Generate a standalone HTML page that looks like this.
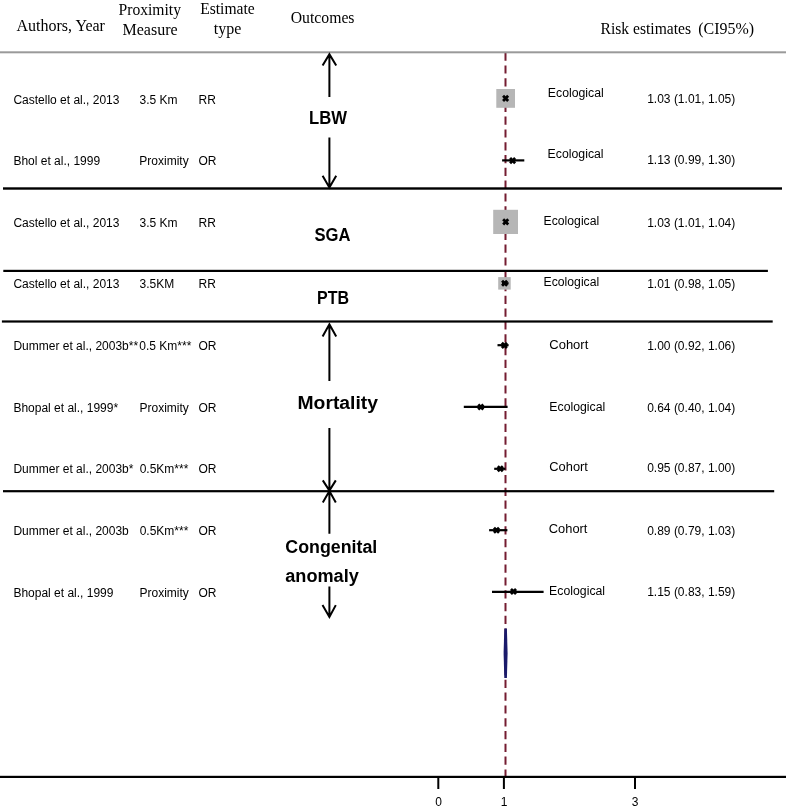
<!DOCTYPE html>
<html><head><meta charset="utf-8"><style>
html,body{margin:0;padding:0;background:#fff;width:787px;height:810px;overflow:hidden}
svg{display:block;filter:blur(0.3px)}
.sf{font-family:"Liberation Serif",serif;font-size:16px;fill:#000}
.ss{font-family:"Liberation Sans",sans-serif;font-size:12px;fill:#000}
.bd{font-family:"Liberation Sans",sans-serif;font-size:18px;font-weight:bold;fill:#000}
</style></head><body>
<svg width="787" height="810" viewBox="0 0 787 810">
<!-- header -->
<text class="sf" x="16.5" y="31">Authors, Year</text>
<text class="sf" x="118.5" y="14.5" textLength="62.5" lengthAdjust="spacingAndGlyphs">Proximity</text>
<text class="sf" x="122.5" y="35.4">Measure</text>
<text class="sf" x="200.2" y="13.5" textLength="54.5" lengthAdjust="spacingAndGlyphs">Estimate</text>
<text class="sf" x="213.8" y="33.5">type</text>
<text class="sf" x="290.7" y="22.9" textLength="63.8" lengthAdjust="spacingAndGlyphs">Outcomes</text>
<text class="sf" x="600.5" y="33.7" textLength="90.5" lengthAdjust="spacingAndGlyphs">Risk estimates</text>
<text class="sf" x="698.3" y="33.7" textLength="55.8" lengthAdjust="spacingAndGlyphs">(CI95%)</text>

<!-- dashed reference line -->
<line x1="505.5" y1="52.6" x2="505.5" y2="776" stroke="#741c31" stroke-width="2" stroke-dasharray="8.2 4.6"/>

<!-- horizontal lines -->
<rect x="0" y="51.3" width="786" height="2" fill="#9a9a9a"/>
<rect x="3" y="187.3" width="779" height="2.4" fill="#000"/>
<rect x="3.3" y="269.8" width="764.6" height="2.2" fill="#000"/>
<rect x="1.9" y="320.4" width="770.8" height="2.2" fill="#000"/>
<rect x="3" y="490.1" width="771.2" height="2.2" fill="#000"/>
<rect x="0" y="775.8" width="786" height="2.2" fill="#000"/>

<!-- ticks -->
<rect x="437.3" y="777" width="2" height="12" fill="#000"/>
<rect x="502.9" y="777" width="2" height="12" fill="#000"/>
<rect x="634" y="777" width="2" height="12" fill="#000"/>
<text class="ss" x="438.5" y="805.7" text-anchor="middle">0</text>
<text class="ss" x="504" y="805.7" text-anchor="middle">1</text>
<text class="ss" x="635" y="805.7" text-anchor="middle">3</text>

<!-- arrows -->
<g stroke="#000" stroke-width="2" fill="none" stroke-linecap="butt">
<path d="M329.4 54.5V97M322.6 65.6L329.4 54.2L336.2 65.6"/>
<path d="M329.4 137.6V187.6M322.6 175.8L329.4 187.6L336.2 175.8"/>
<path d="M329.4 324.6V381.1M322.6 336.5L329.4 324.3L336.2 336.5"/>
<path d="M329.4 428.1V490.2M322.8 480.4L329.4 490.6L335.8 480.4"/>
<path d="M329.4 491V533.8M322.8 502.6L329.4 491L335.8 502.6"/>
<path d="M329.4 586.4V616.6M322.5 605.1L329.4 617L335.8 605.1"/>
</g>

<!-- bold outcome labels -->
<text class="bd" x="309" y="123.5" textLength="38" lengthAdjust="spacingAndGlyphs">LBW</text>
<text class="bd" x="314.5" y="241.1" textLength="36" lengthAdjust="spacingAndGlyphs">SGA</text>
<text class="bd" x="317" y="304.4" textLength="32" lengthAdjust="spacingAndGlyphs">PTB</text>
<text class="bd" x="297.5" y="408.9" textLength="80.5" lengthAdjust="spacingAndGlyphs">Mortality</text>
<text class="bd" x="285.3" y="552.7" textLength="92" lengthAdjust="spacingAndGlyphs">Congenital</text>
<text class="bd" x="285.3" y="581.5" textLength="73.5" lengthAdjust="spacingAndGlyphs">anomaly</text>

<!-- left columns -->
<g class="ss">
<text x="13.4" y="103.8">Castello et al., 2013</text><text x="139.5" y="103.8">3.5 Km</text><text x="198.5" y="103.8">RR</text>
<text x="13.4" y="164.8">Bhol et al., 1999</text><text x="139.3" y="164.8">Proximity</text><text x="198.5" y="164.8">OR</text>
<text x="13.4" y="227.3">Castello et al., 2013</text><text x="139.5" y="227.3">3.5 Km</text><text x="198.5" y="227.3">RR</text>
<text x="13.4" y="288.4">Castello et al., 2013</text><text x="139.5" y="288.4">3.5KM</text><text x="198.5" y="288.4">RR</text>
<text x="13.4" y="349.9">Dummer et al., 2003b**</text><text x="139.3" y="349.9">0.5 Km***</text><text x="198.5" y="349.9">OR</text>
<text x="13.4" y="412">Bhopal et al., 1999*</text><text x="139.5" y="412">Proximity</text><text x="198.5" y="412">OR</text>
<text x="13.4" y="472.8">Dummer et al., 2003b*</text><text x="139.7" y="472.8">0.5Km***</text><text x="198.5" y="472.8">OR</text>
<text x="13.4" y="534.7">Dummer et al., 2003b</text><text x="139.7" y="534.7">0.5Km***</text><text x="198.5" y="534.7">OR</text>
<text x="13.4" y="597">Bhopal et al., 1999</text><text x="139.5" y="597">Proximity</text><text x="198.5" y="597">OR</text>
</g>

<!-- study design -->
<g class="ss">
<text x="547.8" y="96.8" textLength="56" lengthAdjust="spacingAndGlyphs">Ecological</text>
<text x="547.6" y="158" textLength="56" lengthAdjust="spacingAndGlyphs">Ecological</text>
<text x="543.6" y="224.9" textLength="55.6" lengthAdjust="spacingAndGlyphs">Ecological</text>
<text x="543.6" y="285.6" textLength="55.6" lengthAdjust="spacingAndGlyphs">Ecological</text>
<text x="549.3" y="349.3" textLength="39" lengthAdjust="spacingAndGlyphs">Cohort</text>
<text x="549.3" y="410.6" textLength="56" lengthAdjust="spacingAndGlyphs">Ecological</text>
<text x="549.3" y="471" textLength="38.6" lengthAdjust="spacingAndGlyphs">Cohort</text>
<text x="548.8" y="533.4" textLength="38.6" lengthAdjust="spacingAndGlyphs">Cohort</text>
<text x="549.1" y="594.9" textLength="56" lengthAdjust="spacingAndGlyphs">Ecological</text>
</g>

<!-- estimates -->
<g class="ss">
<text x="647.2" y="103.4">1.03 (1.01, 1.05)</text>
<text x="647.2" y="164.4">1.13 (0.99, 1.30)</text>
<text x="647.2" y="227.3">1.03 (1.01, 1.04)</text>
<text x="647.2" y="287.8">1.01 (0.98, 1.05)</text>
<text x="647.2" y="349.9">1.00 (0.92, 1.06)</text>
<text x="647.2" y="411.8">0.64 (0.40, 1.04)</text>
<text x="647.2" y="472.3">0.95 (0.87, 1.00)</text>
<text x="647.2" y="534.5">0.89 (0.79, 1.03)</text>
<text x="647.2" y="596.4">1.15 (0.83, 1.59)</text>
</g>

<!-- weight squares -->
<rect x="496.3" y="89" width="18.7" height="18.8" fill="#b6b6b6"/>
<rect x="493.2" y="209.8" width="24.8" height="24.2" fill="#b6b6b6"/>
<rect x="498.2" y="277.1" width="12.5" height="12.5" fill="#b6b6b6"/>

<!-- CI lines -->
<g stroke="#000" stroke-width="2.2">
<line x1="502.1" y1="160.4" x2="524.3" y2="160.4"/>
<line x1="497.5" y1="345.2" x2="508.6" y2="345.2"/>
<line x1="502" y1="283.3" x2="508.6" y2="283.3"/>
<line x1="463.8" y1="406.8" x2="507.6" y2="406.8"/>
<line x1="494.2" y1="468.8" x2="505.4" y2="468.8"/>
<line x1="489.1" y1="530.2" x2="507.4" y2="530.2"/>
<line x1="492" y1="591.8" x2="543.6" y2="591.8"/>
</g>

<!-- point markers -->
<g stroke="#000" stroke-width="2.8" stroke-linecap="butt">
<path d="M503.05 95.85L508.15 100.95M508.15 95.85L503.05 100.95"/>
<path d="M503.15 219.35L508.25 224.45M508.25 219.35L503.15 224.45"/>
<path d="M510.05 158.05L515.15 163.15M515.15 158.05L510.05 163.15"/>
<path d="M502.05 280.65L507.15 285.75M507.15 280.65L502.05 285.75"/>
<path d="M501.85 342.85L506.95 347.95M506.95 342.85L501.85 347.95"/>
<path d="M478.25 404.45L483.35 409.55M483.35 404.45L478.25 409.55"/>
<path d="M497.75 466.25L502.85 471.35M502.85 466.25L497.75 471.35"/>
<path d="M493.95 527.65L499.05 532.75M499.05 527.65L493.95 532.75"/>
<path d="M510.95 588.95L516.05 594.05M516.05 588.95L510.95 594.05"/>
</g>

<!-- pooled diamond -->
<polygon points="504.3,628.4 506.9,628.4 507.6,653 506.9,678 504.3,678 503.6,653" fill="#1a1a6a"/>
</svg>
</body></html>
